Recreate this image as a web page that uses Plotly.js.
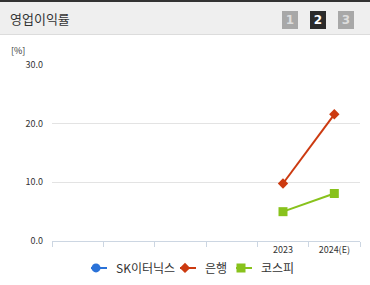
<!DOCTYPE html>
<html>
<head>
<meta charset="utf-8">
<script src="https://cdn.plot.ly/plotly-3.0.1.min.js"></script>
<style>
  html, body { margin: 0; padding: 0; background: #fff; }
  #wrap { position: relative; width: 370px; height: 285px; overflow: hidden; font-family: "Noto Sans CJK KR", "Noto Sans", sans-serif; }
  #head { position: absolute; left: 0; top: 0; width: 370px; height: 32px; background: #efefef;
          border-top: 2px solid #333; border-bottom: 1px solid #dcdcdc; box-sizing: content-box; z-index: 2; }
  #head .ttl { position: absolute; left: 10px; top: 7px; font-size: 13px; color: #333; }
  #head .pg { position: absolute; top: 9px; width: 16px; height: 18px; font: bold 12px/18px "DejaVu Sans", sans-serif;
              text-align: center; color: #ddd; background: #a8a8a8; }
  #head .pg.on { background: #2b2b2b; color: #fff; }
  #chart { position: absolute; left: 0; top: 0; width: 370px; height: 285px; }
  /* keep only a short stub of line behind each legend marker */
  #chart .legendlines path { stroke-dasharray: 0 10 16 30 !important; }
</style>
</head>
<body>
<div id="wrap">
  <div id="chart"></div>
  <div id="head">
    <span class="ttl">영업이익률</span>
    <span class="pg" style="left:282px">1</span>
    <span class="pg on" style="left:310px">2</span>
    <span class="pg" style="left:338px">3</span>
  </div>
</div>
<script>
// Period labels (only the last two are populated)
const periods = ["", "", "", "", "2023", "2024(E)"];
// Operating margin (%) per series
const skEternix = [null, null, null, null, null, null];
const bank      = [null, null, null, null, 9.8, 21.6];
const kospi     = [null, null, null, null, 5.0, 8.1];
const yTicks    = [0, 10, 20, 30];
const yTickText = ["0.0", "10.0", "20.0", "30.0"];

const idx = periods.map((_, i) => i);

function series(name, values, color, symbol, size, legendId) {
  return {
    type: "scatter", mode: "lines+markers", name: name, legend: legendId,
    x: idx, y: values,
    line: { color: color, width: 2 },
    marker: { color: color, symbol: symbol, size: size },
    connectgaps: false, hoverinfo: "skip"
  };
}

const data = [
  series("SK이터닉스", skEternix, "#2a72d8", "circle", 9, "legend"),
  series("은행", bank, "#cc3a10", "diamond", 8, "legend2"),
  series("코스피", kospi, "#88c21c", "square", 9, "legend3")
];

// one small legend box per series, laid out in a row under the axis
function legendBox(left) {
  return {
    orientation: "h", xref: "container", yref: "container",
    x: left / 370, xanchor: "left", y: 0.06, yanchor: "middle",
    font: { size: 12, color: "#333" }, itemwidth: 30, bgcolor: "rgba(0,0,0,0)"
  };
}

const layout = {
  width: 370, height: 285,
  margin: { l: 52, r: 10, t: 65, b: 44 },
  paper_bgcolor: "rgba(0,0,0,0)", plot_bgcolor: "#fff",
  font: { family: "Noto Sans CJK KR, Noto Sans, sans-serif", color: "#333" },
  showlegend: true,
  legend: legendBox(76),
  legend2: legendBox(165),
  legend3: legendBox(221),
  xaxis: {
    range: [-0.5, 5.5], fixedrange: true,
    tickmode: "array", tickvals: idx, ticktext: periods,
    ticks: "", tickfont: { size: 9, color: "#333" },
    showgrid: false, zeroline: false,
    showline: true, linecolor: "#ccd6e2", linewidth: 1,
    minor: { tickmode: "linear", tick0: -0.5, dtick: 1, ticks: "outside", ticklen: 5, tickcolor: "#ccd6e2", showgrid: false }
  },
  yaxis: {
    range: [0, 30], fixedrange: true,
    tickmode: "array", tickvals: yTicks, ticktext: yTickText,
    tickfont: { size: 9, color: "#333" }, ticks: "", ticklabelstandoff: 8,
    showgrid: true, gridcolor: "#e3e3e3", gridwidth: 1,
    zeroline: false, showline: false
  },
  annotations: [{
    text: "[%]", xref: "paper", yref: "paper", x: -0.11, y: 1.085, xanchor: "center", yanchor: "middle",
    showarrow: false, font: { size: 9, color: "#333" }
  }]
};

Plotly.newPlot("chart", data, layout, { displayModeBar: false, staticPlot: true });
</script>
</body>
</html>
